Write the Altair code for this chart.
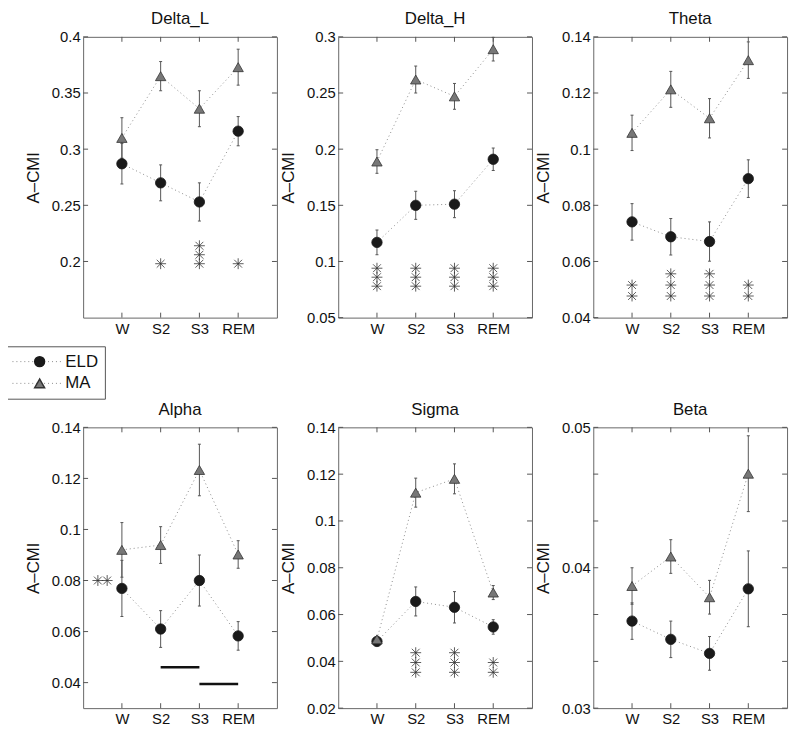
import altair as alt
import pandas as pd

FONT = "Liberation Sans"

categories = ["W", "S2", "S3", "REM"]
cat_pos = [1, 2, 3, 4]
groups = ["ELD", "MA"]

# ---- Delta_L ----
delta_l_eld = [0.287, 0.270, 0.253, 0.316]
delta_l_eld_err = [0.018, 0.016, 0.017, 0.013]
delta_l_ma = [0.310, 0.365, 0.336, 0.373]
delta_l_ma_err = [0.018, 0.013, 0.016, 0.016]
delta_l_star_x = [2, 3, 3, 3, 4]
delta_l_star_y = [0.198, 0.198, 0.206, 0.214, 0.198]
delta_l_domain = [0.15, 0.40]
delta_l_ticks = [0.2, 0.25, 0.3, 0.35, 0.4]

# ---- Delta_H ----
delta_h_eld = [0.117, 0.150, 0.151, 0.191]
delta_h_eld_err = [0.011, 0.0125, 0.012, 0.010]
delta_h_ma = [0.189, 0.262, 0.247, 0.289]
delta_h_ma_err = [0.0105, 0.012, 0.0115, 0.0105]
delta_h_star_x = [1, 1, 1, 2, 2, 2, 3, 3, 3, 4, 4, 4]
delta_h_star_y = [0.078, 0.086, 0.094, 0.078, 0.086, 0.094,
                  0.078, 0.086, 0.094, 0.078, 0.086, 0.094]
delta_h_domain = [0.05, 0.30]
delta_h_ticks = [0.05, 0.1, 0.15, 0.2, 0.25, 0.3]

# ---- Theta ----
theta_eld = [0.0741, 0.0688, 0.0671, 0.0895]
theta_eld_err = [0.0065, 0.0065, 0.0070, 0.0067]
theta_ma = [0.1058, 0.1213, 0.1110, 0.1317]
theta_ma_err = [0.0063, 0.0064, 0.0070, 0.0065]
theta_star_x = [1, 1, 2, 2, 2, 3, 3, 3, 4, 4]
theta_star_y = [0.0477, 0.0516, 0.0477, 0.0516, 0.0556, 0.0477, 0.0516, 0.0556, 0.0477, 0.0516]
theta_domain = [0.04, 0.14]
theta_ticks = [0.04, 0.06, 0.08, 0.1, 0.12, 0.14]

# ---- Alpha ----
alpha_eld = [0.0769, 0.0610, 0.0800, 0.0583]
alpha_eld_err = [0.011, 0.0072, 0.0100, 0.0056]
alpha_ma = [0.0920, 0.0939, 0.1233, 0.0902]
alpha_ma_err = [0.0107, 0.0072, 0.0101, 0.0054]
alpha_star_x = [0.38, 0.62]
alpha_star_y = [0.080, 0.080]
alpha_bar_x = [2, 3]
alpha_bar_x2 = [3, 4]
alpha_bar_y = [0.046, 0.0395]
alpha_domain = [0.03, 0.14]
alpha_ticks = [0.04, 0.06, 0.08, 0.1, 0.12, 0.14]

# ---- Sigma ----
sigma_eld = [0.0485, 0.0656, 0.0631, 0.0547]
sigma_eld_err = [0.001, 0.0062, 0.0067, 0.0031]
sigma_ma = [0.0494, 0.1121, 0.1180, 0.0694]
sigma_ma_err = [0.001, 0.0062, 0.0064, 0.0030]
sigma_star_x = [2, 2, 2, 3, 3, 3, 4, 4]
sigma_star_y = [0.0353, 0.0395, 0.0437, 0.0353, 0.0395, 0.0437, 0.0353, 0.0395]
sigma_domain = [0.02, 0.14]
sigma_ticks = [0.02, 0.04, 0.06, 0.08, 0.1, 0.12, 0.14]

# ---- Beta ----
beta_eld = [0.0362, 0.0349, 0.0339, 0.0385]
beta_eld_err = [0.0013, 0.0013, 0.0012, 0.0027]
beta_ma = [0.0387, 0.0408, 0.0379, 0.0467]
beta_ma_err = [0.0013, 0.0012, 0.0012, 0.0027]
beta_domain = [0.03, 0.05]
beta_ticks = [0.03, 0.04, 0.05]
beta_minor_ticks = [0.03, 0.03333, 0.03667, 0.04, 0.04333, 0.04667, 0.05]

W, H = 196, 284
LINE_GRAY = "#8c8c8c"
BAR_GRAY = "#555555"
TICK_GRAY = "#555555"
STAR_PATH = "M-1,0H1M0,-1V1M-0.72,-0.72L0.72,0.72M-0.72,0.72L0.72,-0.72"
LABEL_EXPR = "['', " + ", ".join("'%s'" % c for c in categories) + "][datum.value]"


def panel(name, eld, eld_err, ma, ma_err, domain, ticks, tick_marks,
          star_x=None, star_y=None, legend=False, bars=None, anchor=False):
    rows = []
    for g, m, e in ((groups[0], eld, eld_err), (groups[1], ma, ma_err)):
        for c, p, v, s in zip(categories, cat_pos, m, e):
            rows.append({"group": g, "line_group": g, "cat": c, "pos": p,
                         "mean": v, "lo": v - s, "hi": v + s})
    df = pd.DataFrame(rows)

    xscale = alt.Scale(domain=[0, 5], nice=False, zero=False)
    yscale = alt.Scale(domain=domain, nice=False, zero=False)
    xaxis = alt.Axis(values=cat_pos, labelExpr=LABEL_EXPR, title=None,
                     labelPadding=4, tickSize=0, ticks=False, domain=False, grid=False)
    yaxis = alt.Axis(values=ticks, format="~g", title="A\u2013CMI", labelPadding=3,
                     tickSize=0, ticks=False, domain=False, grid=False,
                     titlePadding=8, minExtent=33, maxExtent=33)

    def X(f):
        return alt.X(f, type="quantitative", scale=xscale, axis=xaxis)

    def Y(f):
        return alt.Y(f, type="quantitative", scale=yscale, axis=yaxis)

    if legend:
        leg_line = alt.Legend(orient="none", legendX=-78, legendY=-82, title=None,
                              symbolType="stroke", symbolSize=52 * 52,
                              symbolStrokeColor=LINE_GRAY, symbolStrokeWidth=1,
                              labelFont=FONT, labelFontSize=17, labelColor="#111",
                              labelOffset=1, padding=6, rowPadding=3, clipHeight=19,
                              strokeColor="#555555", fillColor="white")
        leg_pt = alt.Legend(orient="none", legendX=-58.5, legendY=-82, title=None,
                            labelFont=FONT, labelFontSize=17, labelExpr="''",
                            padding=6, rowPadding=3, clipHeight=19)
    else:
        leg_line = None
        leg_pt = None

    base = alt.Chart(df)
    lines = base.mark_line(color=LINE_GRAY, strokeWidth=1).encode(
        x=X("pos"), y=Y("mean"),
        strokeDash=alt.StrokeDash("line_group:N", scale=alt.Scale(range=[[1, 3], [1, 3]]),
                                  legend=leg_line),
    )
    errbars = base.mark_rule(color=BAR_GRAY, strokeWidth=1).encode(
        x=X("pos"), y=Y("lo"), y2="hi")
    caps_lo = base.mark_rule(color=BAR_GRAY, strokeWidth=1, xOffset=-1.5, x2Offset=1.5).encode(
        x=X("pos"), x2="pos", y=Y("lo"))
    caps_hi = base.mark_rule(color=BAR_GRAY, strokeWidth=1, xOffset=-1.5, x2Offset=1.5).encode(
        x=X("pos"), x2="pos", y=Y("hi"))

    tdf = pd.DataFrame({"v": tick_marks})
    xdf = pd.DataFrame({"p": cat_pos})
    tick_l = alt.Chart(tdf).mark_rule(color=TICK_GRAY).encode(
        y=Y("v"), x=alt.value(0), x2=alt.value(5))
    tick_r = alt.Chart(tdf).mark_rule(color=TICK_GRAY).encode(
        y=Y("v"), x=alt.value(W - 5), x2=alt.value(W))
    tick_b = alt.Chart(xdf).mark_rule(color=TICK_GRAY).encode(
        x=X("p"), y=alt.value(H - 5), y2=alt.value(H))
    tick_t = alt.Chart(xdf).mark_rule(color=TICK_GRAY).encode(
        x=X("p"), y=alt.value(0), y2=alt.value(5))

    title = alt.Chart(pd.DataFrame({"t": [name]})).mark_text(
        font=FONT, fontSize=17, baseline="alphabetic", align="center", color="#111111"
    ).encode(text="t:N", x=alt.value(W / 2), y=alt.value(-13))

    layers = [lines, errbars, caps_lo, caps_hi, tick_l, tick_r, tick_b, tick_t, title]

    if anchor:
        # invisible layout anchor fixing the top-left corner of the whole figure
        layers.append(alt.Chart(pd.DataFrame({"a": [0]})).mark_rule(opacity=0, strokeWidth=0).encode(
            x=alt.value(-90), x2=alt.value(-89), y=alt.value(-40), y2=alt.value(-39)))

    if star_x is not None:
        sdf = pd.DataFrame({"x": star_x, "y": star_y})
        layers.append(alt.Chart(sdf).mark_point(shape=STAR_PATH, filled=False, size=121,
                                                stroke="#333333", strokeWidth=0.8, opacity=1).encode(
            x=X("x"), y=Y("y")))
    if bars is not None:
        bdf = pd.DataFrame({"x": bars[0], "x2": bars[1], "y": bars[2]})
        layers.append(alt.Chart(bdf).mark_rule(color="#111111", strokeWidth=2.5).encode(
            x=X("x"), x2="x2", y=Y("y")))

    points = base.mark_point(filled=True, size=110, opacity=1, strokeWidth=0.8).encode(
        x=X("pos"), y=Y("mean"),
        shape=alt.Shape("group:N", scale=alt.Scale(domain=groups, range=["circle", "triangle-up"]),
                        legend=leg_pt),
        fill=alt.Fill("group:N", scale=alt.Scale(domain=groups, range=["#1a1a1a", "#777777"]),
                      legend=leg_pt),
        stroke=alt.Stroke("group:N", scale=alt.Scale(domain=groups, range=["#1a1a1a", "#333333"]),
                          legend=leg_pt),
    )
    layers.append(points)

    return alt.layer(*layers).properties(width=W, height=H)


p1 = panel("Delta_L", delta_l_eld, delta_l_eld_err, delta_l_ma, delta_l_ma_err,
           delta_l_domain, delta_l_ticks, delta_l_ticks, delta_l_star_x, delta_l_star_y,
           anchor=True)
p2 = panel("Delta_H", delta_h_eld, delta_h_eld_err, delta_h_ma, delta_h_ma_err,
           delta_h_domain, delta_h_ticks, delta_h_ticks, delta_h_star_x, delta_h_star_y)
p3 = panel("Theta", theta_eld, theta_eld_err, theta_ma, theta_ma_err,
           theta_domain, theta_ticks, theta_ticks, theta_star_x, theta_star_y)
p4 = panel("Alpha", alpha_eld, alpha_eld_err, alpha_ma, alpha_ma_err,
           alpha_domain, alpha_ticks, alpha_ticks, alpha_star_x, alpha_star_y,
           legend=True, bars=(alpha_bar_x, alpha_bar_x2, alpha_bar_y))
p5 = panel("Sigma", sigma_eld, sigma_eld_err, sigma_ma, sigma_ma_err,
           sigma_domain, sigma_ticks, sigma_ticks, sigma_star_x, sigma_star_y)
p6 = panel("Beta", beta_eld, beta_eld_err, beta_ma, beta_ma_err,
           beta_domain, beta_ticks, beta_minor_ticks)

RES = dict(strokeDash="independent", shape="independent", fill="independent", stroke="independent")

chart = (
    alt.concat(p1, p2, p3, p4, p5, p6, columns=3, bounds="flush",
               spacing={"row": 111, "column": 62})
    .resolve_scale(**RES)
    .resolve_legend(**RES)
    .properties(padding={"left": -15, "top": -16, "right": 4, "bottom": 4})
    .configure_view(stroke="#666666", strokeWidth=1)
    .configure_axis(labelFont=FONT, labelFontSize=15, labelColor="#111111",
                    titleFont=FONT, titleFontSize=17, titleFontWeight="normal",
                    titleColor="#111111")
    .configure_legend(labelFont=FONT)
)

chart.save("out.html", embed_options={"renderer": "svg", "actions": False})
